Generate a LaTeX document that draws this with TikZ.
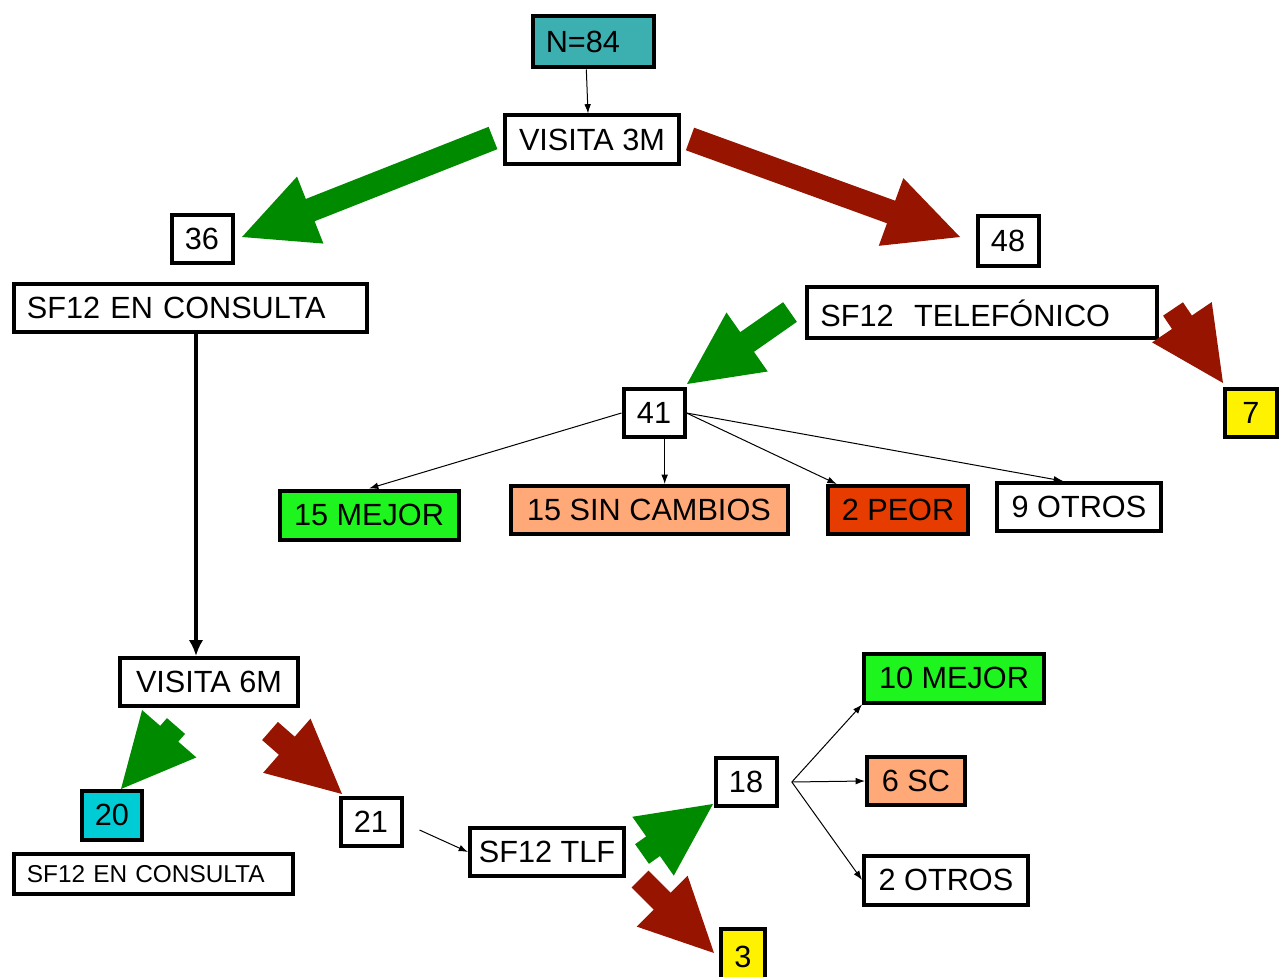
\documentclass[tikz,border=0pt]{standalone}
\usepackage{fontspec}
\setmainfont{Liberation Sans}
\usetikzlibrary{arrows.meta,positioning,calc}

\definecolor{arrowgreen}{RGB}{0,138,0}
\definecolor{arrowred}{RGB}{150,20,0}
\definecolor{nteal}{RGB}{60,176,176}
\definecolor{ncyan}{RGB}{0,204,214}
\definecolor{nmejor}{RGB}{30,245,30}
\definecolor{nsalmon}{RGB}{255,168,120}
\definecolor{npeor}{RGB}{230,60,0}

% fat block arrow: colour, tail, tip
\newcommand{\fatarrow}[3]{%
  \path ($(#3)!55pt!(#2)$) coordinate (fa-b);
  \fill[#1] ($(#2)!9pt!90:(#3)$) -- ($(fa-b)!9pt!-90:(#2)$) -- ($(fa-b)!27pt!-90:(#2)$)
    -- (#3) -- ($(fa-b)!27pt!90:(#2)$) -- ($(fa-b)!9pt!90:(#2)$) -- ($(#2)!9pt!-90:(#3)$) -- cycle;
}

\begin{document}
\begin{tikzpicture}[x=0.75pt, y=-0.75pt,
    box/.style={draw, line width=3pt, fill=white, minimum height=36pt, inner sep=0pt, font=\fontsize{23}{27}\selectfont},
    lbox/.style={box, align=left, inner xsep=10pt, text width=#1},
    link/.style={-{Latex[length=7pt, width=5pt]}, line width=0.75pt},
    bigarrow/.style={-{Latex[length=12pt, width=11pt]}, line width=3pt}]
      \useasboundingbox (0,0) rectangle (1283,977);

      % Top
      \node[lbox=70.75pt, fill=nteal, minimum height=38.25pt] (top) at (593,42) {N=84};
      \node[box, minimum width=130.5pt, minimum height=36.75pt] (v3) at (592,140) {VISITA 3M};

      % Left branch
      \node[box, minimum width=45.75pt] (n36) at (202,239) {36};
      \node[lbox=244.75pt] (sfc) at (190,308) {SF12 EN CONSULTA};

      % Right branch
      \node[box, minimum width=45.75pt, minimum height=37.5pt] (n48) at (1008,241) {48};
      \node[lbox=242.5pt, minimum height=38.25pt] (sft) at (982,313) {SF12~~TELEFÓNICO};
      \node[box, fill=yellow, minimum width=39pt] (n7) at (1251,413) {7};
      \node[box, minimum width=45.75pt] (n41) at (654,413) {41};

      % Results at 3M
      \node[box, fill=nmejor, minimum width=134.25pt, minimum height=36.75pt] (m15) at (369,515) {15 MEJOR};
      \node[box, fill=nsalmon, minimum width=207.75pt] (sc15) at (649,510) {15 SIN CAMBIOS};
      \node[box, fill=npeor, minimum width=105pt] (p2) at (898,510) {2 PEOR};
      \node[box, minimum width=123pt] (o9) at (1079,507) {9 OTROS};

      % Visit 6M
      \node[box, minimum width=133.5pt] (v6) at (209,682) {VISITA 6M};
      \node[box, fill=ncyan, minimum width=45pt, minimum height=36.75pt] (n20) at (112,815) {20};
      \node[lbox=189.25pt, minimum height=30pt, font=\fontsize{18.3}{21}\selectfont] (sfc2) at (153,874) {SF12 EN CONSULTA};
      \node[box, minimum width=45.75pt] (n21) at (371,822) {21};
      \node[box, minimum width=115.5pt] (tlf) at (547,852) {SF12 TLF};
      \node[box, minimum width=45.75pt] (n18) at (746,782) {18};
      \node[box, fill=yellow, minimum width=33pt, minimum height=42pt] (n3) at (743,957) {3};

      % Results at 6M
      \node[box, fill=nmejor, minimum width=135pt, minimum height=36.75pt] (m10) at (954,678) {10 MEJOR};
      \node[box, fill=nsalmon, minimum width=73.5pt] (sc6) at (916,781) {6 SC};
      \node[box, minimum width=123pt, minimum height=36.75pt] (o2) at (946,880) {2 OTROS};

      % Block arrows
      \coordinate (gA) at (493,138); \coordinate (gAt) at (242,237);
      \coordinate (rB) at (690,139); \coordinate (rBt) at (960,237);
      \coordinate (gC) at (790,312); \coordinate (gCt) at (687,384);
      \coordinate (rD) at (1173,309); \coordinate (rDt) at (1223,383);
      \coordinate (gE) at (176,726); \coordinate (gEt) at (121,789);
      \coordinate (rF) at (270,731); \coordinate (rFt) at (342,794);
      \coordinate (gG) at (642,854); \coordinate (gGt) at (713,804);
      \coordinate (rH) at (640,879); \coordinate (rHt) at (714,953);
      \fatarrow{arrowgreen}{gA}{gAt}
      \fatarrow{arrowred}{rB}{rBt}
      \fatarrow{arrowgreen}{gC}{gCt}
      \fatarrow{arrowred}{rD}{rDt}
      \fatarrow{arrowgreen}{gE}{gEt}
      \fatarrow{arrowred}{rF}{rFt}
      \fatarrow{arrowgreen}{gG}{gGt}
      \fatarrow{arrowred}{rH}{rHt}

      % Arrows
      \draw[link] ([xshift=-5pt]top.south) -- ([xshift=-3pt]v3.north);
      \draw[bigarrow] ([xshift=4.5pt]sfc.south) -- ([xshift=4.5pt]sfc.south |- v6.north);
      \draw[link] (n41.west) -- (m15.north);
      \draw[link] ([xshift=8pt]n41.south) -- ([xshift=8pt]n41.south |- sc15.north);
      \draw[link] (n41.east) -- ([xshift=8pt]p2.north west);
      \draw[link] (n41.east) -- ([xshift=-12pt]o9.north);
      \draw[link] ([xshift=12pt,yshift=-6pt]n21.east) -- (tlf.west);
      \coordinate (fork) at ([xshift=10pt]n18.east);
      \draw[link] (fork) -- (m10.south west);
      \draw[link] (fork) -- (sc6.west);
      \draw[link] (fork) -- (o2.west);
    \end{tikzpicture}
\end{document}
